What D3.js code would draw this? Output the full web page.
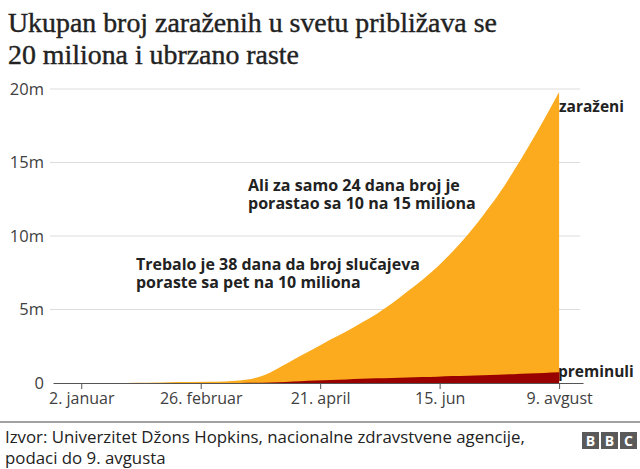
<!DOCTYPE html>
<html>
<head>
<meta charset="utf-8">
<script src="https://cdn.jsdelivr.net/npm/d3@7"></script>
<style>
  html, body { margin: 0; padding: 0; background: #fff; }
  svg { display: block; }
</style>
</head>
<body>
<svg id="chart" width="640" height="469"></svg>
<script>
// ---- data ----
const dates = ["2020-01-22","2020-02-01","2020-02-15","2020-03-01","2020-03-08","2020-03-15","2020-03-22","2020-03-29","2020-04-05","2020-04-12","2020-04-19","2020-04-26","2020-05-03","2020-05-10","2020-05-17","2020-05-24","2020-05-31","2020-06-07","2020-06-14","2020-06-21","2020-06-28","2020-07-05","2020-07-12","2020-07-19","2020-07-26","2020-08-02","2020-08-09"];
const cases = [555,12000,69000,88000,110000,167000,337000,722000,1270000,1850000,2400000,2970000,3500000,4100000,4700000,5400000,6200000,7000000,7900000,8950000,10100000,11400000,12800000,14400000,16100000,17900000,19800000];
const deaths = [17,259,1666,3000,3800,6500,14700,34000,69000,114000,165000,206000,245000,283000,315000,345000,372000,403000,432000,468000,500000,533000,567000,603000,646000,685000,728000];
const yTicks = [0,5000000,10000000,15000000,20000000];
const yTickLabels = ["0","5m","10m","15m","20m"];
const xTicks = ["2020-01-02","2020-02-26","2020-04-21","2020-06-15","2020-08-09"];
const xTickLabels = ["2. januar","26. februar","21. april","15. jun","9. avgust"];
const titleLines = ["Ukupan broj zaraženih u svetu približava se","20 miliona i ubrzano raste"];
const annotation1 = ["Ali za samo 24 dana broj je","porastao sa 10 na 15 miliona"];
const annotation2 = ["Trebalo je 38 dana da broj slučajeva","poraste sa pet na 10 miliona"];
const seriesLabels = ["zaraženi","preminuli"];
const sourceLines = ["Izvor: Univerzitet Džons Hopkins, nacionalne zdravstvene agencije,","podaci do 9. avgusta"];

const parse = d3.timeParse("%Y-%m-%d");
const rows = dates.map((d,i) => ({date: parse(d), cases: cases[i], deaths: deaths[i]}));

const svg = d3.select("#chart");
const sans = "'Open Sans', 'Noto Sans', sans-serif";
const serif = "'Liberation Serif', 'DejaVu Serif', serif";

const x = d3.scaleTime().domain([parse("2019-12-20"), parse("2020-08-20")]).range([53, 583]);
const y = d3.scaleLinear().domain([0, 20000000]).range([383, 89]);

// title
const titleG = svg.append("g");
const titleTexts = titleLines.map((t,i) => titleG.append("text").attr("x", 8).attr("y", 32 + i*32)
  .attr("font-family", serif).attr("font-size", 28).attr("fill", "#222")
  .attr("stroke", "#222").attr("stroke-width", 0.4).text(t));
{
  const w = titleTexts[0].node().getComputedTextLength();
  const fs = (28 * 489 / w).toFixed(2);
  titleTexts.forEach(t => t.attr("font-size", fs));
}

// gridlines
svg.append("g").selectAll("line").data(yTicks.slice(1)).join("line")
  .attr("x1", 50).attr("x2", 580)
  .attr("y1", d => y(d)).attr("y2", d => y(d))
  .attr("stroke", "#dcdcdc").attr("stroke-width", 1);

// y labels
svg.append("g").selectAll("text").data(yTicks).join("text")
  .attr("x", 44).attr("y", d => y(d)).attr("dy", "0.35em")
  .attr("text-anchor", "end").attr("font-family", sans).attr("font-size", 16.5).attr("fill", "#404040")
  .text((d,i) => yTickLabels[i]);

// areas
const areaCases = d3.area().x(d => x(d.date)).y0(y(0)).y1(d => y(d.cases)).curve(d3.curveMonotoneX);
const areaDeaths = d3.area().x(d => x(d.date)).y0(y(0)).y1(d => y(d.deaths)).curve(d3.curveMonotoneX);
svg.append("path").datum(rows).attr("d", areaCases).attr("fill", "#fbab1d");
svg.append("path").datum(rows).attr("d", areaDeaths).attr("fill", "#990000");

// x axis
const xAxis = d3.axisBottom(x)
  .tickValues(xTicks.map(parse))
  .tickFormat((d,i) => xTickLabels[i])
  .tickSize(6).tickPadding(4).tickSizeOuter(0);
const gx = svg.append("g").attr("transform", `translate(0,${y(0)})`).call(xAxis);
gx.select(".domain").attr("stroke", "#555");
gx.selectAll(".tick line").attr("stroke", "#555");
gx.selectAll(".tick text").attr("font-family", sans).attr("font-size", 16).attr("fill", "#404040");

// series labels
svg.append("text").attr("x", 559).attr("y", 112).attr("font-family", sans).attr("font-weight", 700)
  .attr("font-size", 15.5).attr("fill", "#222").text(seriesLabels[0]);
svg.append("text").attr("x", 558).attr("y", 377).attr("font-family", sans).attr("font-weight", 700)
  .attr("font-size", 15.5).attr("fill", "#222").text(seriesLabels[1]);

// annotations
function annot(lines, x0, y0, wFirst) {
  const g = svg.append("g");
  const ts = lines.map((t,i) => g.append("text").attr("x", x0).attr("y", y0 + i*18)
    .attr("font-family", sans).attr("font-weight", 700).attr("font-size", 14).attr("fill", "#222").text(t));
  const w = ts[0].node().getComputedTextLength();
  const fs = (14 * wFirst / w).toFixed(2);
  ts.forEach(t => t.attr("font-size", fs));
}
annot(annotation1, 248, 191, 212);
annot(annotation2, 136, 270, 284);

// footer
svg.append("line").attr("x1", 0).attr("x2", 640).attr("y1", 422).attr("y2", 422)
  .attr("stroke", "#444").attr("stroke-width", 1);
{
  const ts = sourceLines.map((t,i) => svg.append("text").attr("x", 5).attr("y", 443 + i*21)
    .attr("font-family", sans).attr("font-size", 15).attr("fill", "#222").text(t));
  const w = ts[0].node().getComputedTextLength();
  const fs = (15 * 520 / w).toFixed(2);
  ts.forEach(t => t.attr("font-size", fs));
}
// BBC logo
const logo = svg.append("g").attr("transform", "translate(582,432)");
["B","B","C"].forEach((c,i) => {
  logo.append("rect").attr("x", i*19).attr("y", 0).attr("width", 17).attr("height", 17).attr("fill", "#5a5a5a");
  logo.append("text").attr("x", i*19 + 8.5).attr("y", 14).attr("text-anchor", "middle")
    .attr("font-family", sans).attr("font-weight", 700).attr("font-size", 14).attr("fill", "#fff").text(c);
});
</script>
</body>
</html>
